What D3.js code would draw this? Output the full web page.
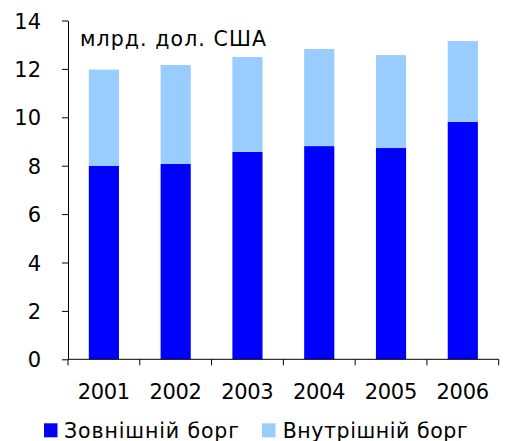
<!DOCTYPE html>
<html><head><meta charset="utf-8">
<script src="https://cdn.jsdelivr.net/npm/d3@7"></script>
<style>body{margin:0;background:#fff}svg{display:block}text{font-family:"DejaVu Sans",Verdana,sans-serif;fill:#000}</style>
</head><body>
<svg id="c" width="505" height="441"></svg>
<script>
const years = ["2001","2002","2003","2004","2005","2006"];
const external = [8.0, 8.07, 8.57, 8.81, 8.73, 9.81];
const domestic = [3.97, 4.09, 3.92, 4.01, 3.84, 3.34];
const yTicks = [0,2,4,6,8,10,12,14];
const seriesNames = ["Зовнішній борг","Внутрішній борг"];
const colors = ["#0000FF","#99CCFF"];
const unitLabel = "млрд. дол. США";

const svg = d3.select("#c");
const x0 = 68, x1 = 498.7, yTop = 20.5, yBot = 359.3;
const x = d3.scaleBand().domain(years).range([x0, x1]).paddingInner(0.58).paddingOuter(0.29);
const y = d3.scaleLinear().domain([0,14]).range([yBot, yTop]);

const rows = years.map((yr,i)=>({year:yr, ext:external[i], dom:domestic[i]}));
const stack = d3.stack().keys(["ext","dom"])(rows);

svg.append("g").selectAll("g").data(stack).join("g")
  .attr("fill",(d,i)=>colors[i])
  .selectAll("rect").data(d=>d).join("rect")
  .attr("x",d=>x(d.data.year))
  .attr("width",x.bandwidth())
  .attr("y",d=>y(d[1]))
  .attr("height",d=>y(d[0])-y(d[1]));

// y axis
const ya = svg.append("g").attr("transform",`translate(${x0},0)`)
  .call(d3.axisLeft(y).tickValues(yTicks).tickSize(6).tickPadding(21).tickSizeOuter(0));
ya.select(".domain").attr("stroke","#000");
ya.selectAll(".tick line").attr("stroke","#000");
ya.selectAll(".tick text").attr("font-size",21).attr("font-family","DejaVu Sans").attr("fill","#000").attr("dy","0.36em");

// x axis
const xEdge = d3.scaleLinear().domain([0,years.length]).range([x0,x1]);
const xa = svg.append("g").attr("transform",`translate(0,${yBot})`);
xa.append("line").attr("x1",x0).attr("x2",x1).attr("stroke","#000");
xa.selectAll("line.t").data(d3.range(years.length+1)).join("line").attr("class","t")
  .attr("x1",d=>xEdge(d)).attr("x2",d=>xEdge(d)).attr("y1",0).attr("y2",6).attr("stroke","#000");
xa.selectAll("text").data(years).join("text")
  .attr("x",d=>x(d)+x.bandwidth()/2).attr("y",40)
  .attr("text-anchor","middle").attr("font-size",21)
  .attr("textLength",52.5).attr("lengthAdjust","spacing").text(d=>d);

// unit label
svg.append("text").attr("x",80).attr("y",45.5).attr("font-size",20.5)
  .attr("textLength",186).attr("lengthAdjust","spacing").text(unitLabel);

// legend
const leg = svg.append("g");
const legX = [44, 262], legTX = [64, 282.7], legW = [175, 185];
seriesNames.forEach((n,i)=>{
  leg.append("rect").attr("x",legX[i]).attr("y",423.3).attr("width",13.5).attr("height",14).attr("fill",colors[i]);
  leg.append("text").attr("x",legTX[i]).attr("y",437.5).attr("font-size",20.5)
    .attr("textLength",legW[i]).attr("lengthAdjust","spacing").text(n);
});
</script>
</body></html>
